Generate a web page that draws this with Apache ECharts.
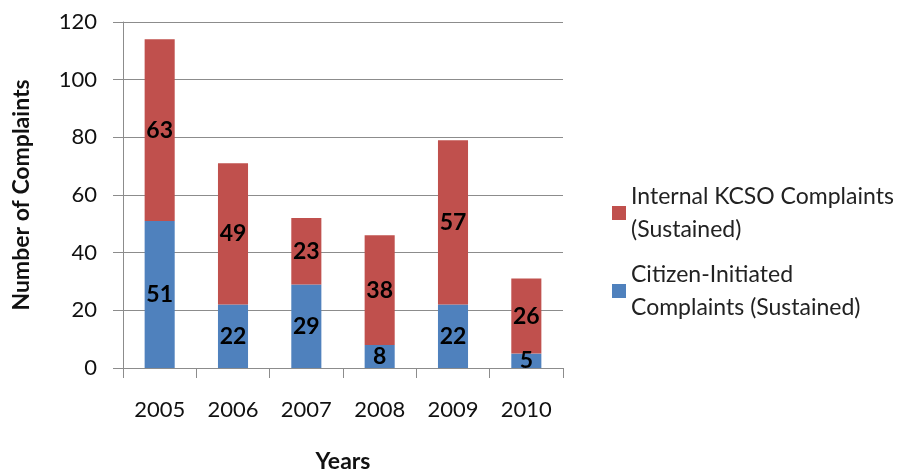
<!DOCTYPE html>
<html>
<head>
<meta charset="utf-8">
<script src="https://cdn.jsdelivr.net/npm/echarts@6/dist/echarts.min.js"></script>
<style>
  html, body { margin: 0; padding: 0; background: #fff; }
  #chart { width: 906px; height: 472px; }
</style>
</head>
<body>
<div id="chart"></div>
<script>
// Sustained complaints per year, split by origin
const years = ['2005', '2006', '2007', '2008', '2009', '2010'];
const citizenInitiated = [51, 22, 29, 8, 22, 5];
const internalKCSO = [63, 49, 23, 38, 57, 26];
const yTicks = [0, 20, 40, 60, 80, 100, 120];

const FONT = 'Lato, "Open Sans", sans-serif';
const GRID_COLOR = '#8c8c8c';

const chart = echarts.init(document.getElementById('chart'));

const segmentLabel = {
  show: true,
  position: 'inside',
  color: '#000',
  fontFamily: FONT,
  fontWeight: 'bold',
  fontSize: 23
};

chart.setOption({
  animation: false,
  textStyle: { fontFamily: FONT },
  grid: { left: 123, right: 343, top: 22, bottom: 104, outerBoundsMode: 'none', containLabel: false },
  legend: {
    orient: 'vertical',
    left: 607,
    top: 175,
    itemWidth: 14,
    itemHeight: 14,
    itemGap: 12,
    icon: 'rect',
    data: ['Internal KCSO Complaints\n(Sustained)', 'Citizen-Initiated\nComplaints (Sustained)'],
    textStyle: { fontFamily: FONT, fontSize: 23, color: '#222', lineHeight: 33 }
  },
  xAxis: {
    type: 'category',
    data: years,
    name: 'Years',
    nameLocation: 'middle',
    nameGap: 82,
    nameTextStyle: { fontFamily: FONT, fontSize: 23, fontWeight: 'bold', color: '#111' },
    axisLine: { lineStyle: { color: GRID_COLOR, width: 1 } },
    axisTick: { show: true, length: 10, inside: false, lineStyle: { color: GRID_COLOR } },
    axisLabel: { margin: 31, fontFamily: FONT, fontSize: 22, color: '#111' }
  },
  yAxis: {
    type: 'value',
    min: yTicks[0],
    max: yTicks[yTicks.length - 1],
    interval: 20,
    name: 'Number of Complaints',
    nameLocation: 'middle',
    nameGap: 90,
    nameRotate: 90,
    nameTextStyle: { fontFamily: FONT, fontSize: 23, fontWeight: 'bold', color: '#111' },
    axisLine: { show: true, lineStyle: { color: GRID_COLOR, width: 1 } },
    axisTick: { show: true, length: 10, lineStyle: { color: GRID_COLOR } },
    axisLabel: { margin: 26, fontFamily: FONT, fontSize: 22, color: '#111' },
    splitLine: { show: true, lineStyle: { color: GRID_COLOR, width: 1 } }
  },
  series: [
    {
      name: 'Citizen-Initiated\nComplaints (Sustained)',
      type: 'bar',
      stack: 'total',
      data: citizenInitiated,
      barWidth: '41%',
      itemStyle: { color: '#4F81BD' },
      label: segmentLabel
    },
    {
      name: 'Internal KCSO Complaints\n(Sustained)',
      type: 'bar',
      stack: 'total',
      data: internalKCSO,
      barWidth: '41%',
      itemStyle: { color: '#C0504D' },
      label: segmentLabel
    }
  ]
});
</script>
</body>
</html>
